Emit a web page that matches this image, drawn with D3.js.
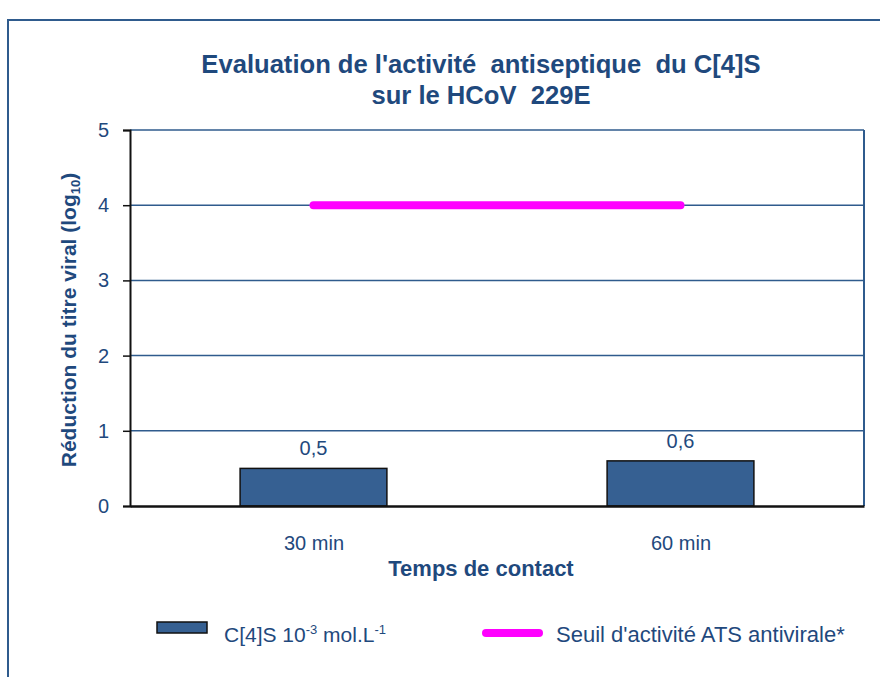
<!DOCTYPE html>
<html>
<head>
<meta charset="utf-8">
<script src="https://cdn.jsdelivr.net/npm/d3@7"></script>
<style>
  html, body { margin: 0; padding: 0; background: #fff; }
  svg { display: block; font-family: "Liberation Sans", Arial, sans-serif; }
  .pre { white-space: pre; }
</style>
</head>
<body>
<svg id="chart" width="880" height="677"></svg>
<script>
// Contact times and measured reduction of viral titre (log10)
const categories = ["30 min", "60 min"];
const reductions = [0.5, 0.6];
const valueLabels = ["0,5", "0,6"];
// Antiviral activity threshold (log10)
const threshold = [4, 4];
const yTicks = [0, 1, 2, 3, 4, 5];

const svg = d3.select("#chart");
const textBlue = "#1f497d";
const gridBlue = "#2f5b8d";
const barFill = "#366092";
const font = "Liberation Sans, Arial, sans-serif";

const margin = { left: 130, right: 864, top: 130, bottom: 506 };

// Outer frame
svg.append("rect")
  .attr("x", 8).attr("y", 20)
  .attr("width", 900).attr("height", 700)
  .attr("fill", "none").attr("stroke", "#2f5b8d").attr("stroke-width", 2);

const x = d3.scaleBand().domain(categories)
  .range([margin.left, margin.right]).paddingInner(0.6).paddingOuter(0.3);
const xc = d3.scalePoint().domain(categories)
  .range([margin.left, margin.right]).padding(0.5);
const y = d3.scaleLinear().domain([0, 5]).range([margin.bottom, margin.top]);

// Title
const title = svg.append("text")
  .attr("class", "pre")
  .attr("text-anchor", "middle")
  .attr("font-weight", "bold").attr("font-size", 25.6)
  .attr("fill", textBlue);
title.append("tspan").attr("x", 481).attr("y", 73).text("Evaluation de l'activité  antiseptique  du C[4]S");
title.append("tspan").attr("x", 481).attr("y", 104).text("sur le HCoV  229E");

// Horizontal gridlines
svg.append("g").selectAll("line").data(yTicks.filter(d => d > 0)).join("line")
  .attr("x1", margin.left).attr("x2", margin.right)
  .attr("y1", d => y(d)).attr("y2", d => y(d))
  .attr("stroke", gridBlue).attr("stroke-width", 1.5);

// Right frame of plot area
svg.append("line")
  .attr("x1", margin.right).attr("x2", margin.right)
  .attr("y1", margin.top).attr("y2", margin.bottom)
  .attr("stroke", gridBlue).attr("stroke-width", 2);

// Bars
svg.append("g").selectAll("rect").data(reductions).join("rect")
  .attr("x", (d, i) => x(categories[i]))
  .attr("width", x.bandwidth())
  .attr("y", d => y(d))
  .attr("height", d => y(0) - y(d))
  .attr("fill", barFill).attr("stroke", "#111").attr("stroke-width", 1.5);

// Value labels
svg.append("g").selectAll("text").data(reductions).join("text")
  .attr("x", (d, i) => xc(categories[i]))
  .attr("y", d => y(d) - 13)
  .attr("text-anchor", "middle").attr("font-size", 20)
  .attr("fill", textBlue)
  .text((d, i) => valueLabels[i]);

// Threshold line
svg.append("path")
  .datum(threshold)
  .attr("d", d3.line().x((d, i) => xc(categories[i])).y(d => y(d)))
  .attr("fill", "none").attr("stroke", "#ff00ff")
  .attr("stroke-width", 8).attr("stroke-linecap", "round");

// Y axis
const yAxis = svg.append("g")
  .attr("transform", `translate(${margin.left},0)`)
  .call(d3.axisLeft(y).tickValues(yTicks).tickFormat(d3.format("d")).tickSize(7).tickPadding(14));
yAxis.select(".domain").attr("stroke", "#111").attr("stroke-width", 2);
yAxis.selectAll(".tick line").attr("stroke", "#111").attr("stroke-width", 1.5);
yAxis.selectAll(".tick text").attr("font-size", 20).attr("fill", textBlue)
  .attr("font-family", font);

// X axis
const xAxis = svg.append("g")
  .attr("transform", `translate(0,${margin.bottom})`)
  .call(d3.axisBottom(xc).tickSize(0).tickPadding(30));
xAxis.select(".domain").attr("stroke", "#111").attr("stroke-width", 2.5);
xAxis.selectAll(".tick text").attr("font-size", 20).attr("fill", textBlue)
  .attr("font-family", font);

// Axis titles
svg.append("text")
  .attr("x", 481).attr("y", 576)
  .attr("text-anchor", "middle").attr("font-weight", "bold").attr("font-size", 22)
  .attr("fill", textBlue).text("Temps de contact");

const yTitle = svg.append("text")
  .attr("transform", "translate(76,320) rotate(-90)")
  .attr("text-anchor", "middle").attr("font-weight", "bold").attr("font-size", 21)
  .attr("fill", textBlue);
yTitle.append("tspan").text("Réduction du titre viral (log");
yTitle.append("tspan").attr("font-size", 13).attr("dy", 4).text("10");
yTitle.append("tspan").attr("dy", -4).text(")");

// Legend
const legend = svg.append("g");
legend.append("rect")
  .attr("x", 157).attr("y", 622).attr("width", 50).attr("height", 11)
  .attr("fill", barFill).attr("stroke", "#111").attr("stroke-width", 1.5);
const l1 = legend.append("text")
  .attr("x", 224).attr("y", 642).attr("font-size", 21).attr("fill", textBlue);
l1.append("tspan").text("C[4]S 10");
l1.append("tspan").attr("font-size", 13).attr("dy", -8).text("-3");
l1.append("tspan").attr("dy", 8).text(" mol.L");
l1.append("tspan").attr("font-size", 13).attr("dy", -8).text("-1");

legend.append("line")
  .attr("x1", 486).attr("x2", 539).attr("y1", 633).attr("y2", 633)
  .attr("stroke", "#ff00ff").attr("stroke-width", 8).attr("stroke-linecap", "round");
legend.append("text")
  .attr("x", 556).attr("y", 642).attr("font-size", 22).attr("fill", textBlue)
  .text("Seuil d'activité ATS antivirale*");
</script>
</body>
</html>
